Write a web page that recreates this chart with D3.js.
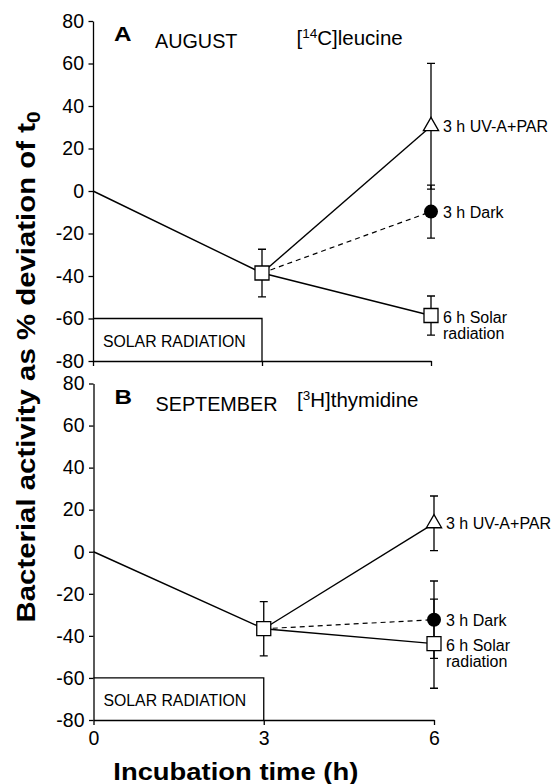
<!DOCTYPE html>
<html>
<head>
<meta charset="utf-8">
<script src="https://cdn.jsdelivr.net/npm/d3@7"></script>
<style>
  body { margin: 0; background: #fff; }
  svg { display: block; }
  text { font-family: "Liberation Sans", Arial, Helvetica, sans-serif; fill: #000; }
</style>
</head>
<body>
<script>
// Data (percent deviation of t0)
const hours = [0, 3, 6];
const branchHours = [3, 6];
const yTicks = [-80, -60, -40, -20, 0, 20, 40, 60, 80];

// A: August, [14C]leucine
const augSolar = [0, -38.6, -58.6];
const augSolarSd = [0, 11.2, 9.2];
const augUV = [-38.6, 30.5];
const augUVSd = [0, 29.6];
const augDark = [-38.6, -9.7];
const augDarkSd = [0, 12.5];

// B: September, [3H]thymidine
const sepSolar = [0, -36.6, -43.7];
const sepSolarSd = [0, 12.9, 21.2];
const sepUV = [-36.6, 13.5];
const sepUVSd = [0, 13];
const sepDark = [-36.6, -32.3];
const sepDarkSd = [0, 18.4];

const width = 555, height = 784;

const svg = d3.select("body")
    .append("svg")
    .attr("width", width)
    .attr("height", height);

const panels = [
    {
        letter: "A", month: "AUGUST", tracer: ["[", "14", "C]leucine"], tracerLen: 110,
        xRange: [93, 431], yRange: [361, 21], showXLabels: false,
        solar: augSolar, solarSd: augSolarSd,
        uv: augUV, uvSd: augUVSd, dark: augDark, darkSd: augDarkSd
    },
    {
        letter: "B", month: "SEPTEMBER", tracer: ["[", "3", "H]thymidine"], tracerLen: 123,
        xRange: [93.5, 434], yRange: [720, 383.5], showXLabels: true,
        solar: sepSolar, solarSd: sepSolarSd,
        uv: sepUV, uvSd: sepUVSd, dark: sepDark, darkSd: sepDarkSd
    }
];

panels.forEach(drawPanel);

function drawPanel(p) {
    const x = d3.scaleLinear().domain([0, 6]).range(p.xRange);
    const y = d3.scaleLinear().domain([-80, 80]).range(p.yRange);
    const g = svg.append("g");

    // y axis (plain hyphen for negatives, as in the figure)
    const yAxis = g.append("g")
        .attr("transform", `translate(${x(0)},0)`)
        .call(d3.axisLeft(y).tickValues(yTicks).tickSize(4.5).tickSizeOuter(0).tickPadding(4.5)
            .tickFormat(d => String(d)));
    // x axis at -80
    const xAxis = g.append("g")
        .attr("transform", `translate(0,${y(-80)})`)
        .call(d3.axisBottom(x).tickValues(hours).tickSize(5).tickSizeOuter(0).tickPadding(6.5)
            .tickFormat(p.showXLabels ? d => String(d) : () => ""));
    [yAxis, xAxis].forEach(a => {
        a.selectAll("path, line").attr("stroke", "#000").attr("stroke-width", 1.3);
        a.selectAll("text").attr("font-size", 19.5)
            .attr("font-family", "'Liberation Sans', Arial, sans-serif");
    });

    // solar radiation box
    g.append("path")
        .attr("d", `M${x(0)},${y(-60)}H${x(3)}V${y(-80)}`)
        .attr("fill", "none").attr("stroke", "#000").attr("stroke-width", 1.3);
    g.append("text")
        .attr("x", x(0) + 10).attr("y", y(-80) - 14)
        .attr("font-size", 15.8)
        .text("SOLAR RADIATION");

    // titles
    const top = y(80);
    g.append("text")
        .attr("x", x(0) + 21).attr("y", top + 20)
        .attr("font-size", 20).attr("font-weight", "bold")
        .attr("textLength", 17.5).attr("lengthAdjust", "spacingAndGlyphs")
        .text(p.letter);
    g.append("text")
        .attr("x", x(0) + 62).attr("y", top + 27.3)
        .attr("font-size", 19.8)
        .text(p.month);
    const tr = g.append("text")
        .attr("x", x(0) + 203.5).attr("y", top + 23.5)
        .attr("font-size", 20.5);
    tr.append("tspan").text(p.tracer[0]);
    tr.append("tspan").attr("font-size", 13.5).attr("dy", -7).text(p.tracer[1]);
    tr.append("tspan").attr("dy", 7).text(p.tracer[2]);

    // lines
    const line = d3.line().x(d => x(d[0])).y(d => y(d[1]));
    const solarPts = d3.zip(hours, p.solar);
    const uvPts = d3.zip(branchHours, p.uv);
    const darkPts = d3.zip(branchHours, p.dark);

    g.append("path").attr("d", line(solarPts))
        .attr("fill", "none").attr("stroke", "#000").attr("stroke-width", 1.4);
    g.append("path").attr("d", line(uvPts))
        .attr("fill", "none").attr("stroke", "#000").attr("stroke-width", 1.4);
    g.append("path").attr("d", line(darkPts))
        .attr("fill", "none").attr("stroke", "#000").attr("stroke-width", 1.2)
        .attr("stroke-dasharray", "5,4");

    // error bars
    const bars = [];
    hours.forEach((h, i) => { if (p.solarSd[i] > 0) bars.push([h, p.solar[i], p.solarSd[i]]); });
    branchHours.forEach((h, i) => {
        if (p.uvSd[i] > 0) bars.push([h, p.uv[i], p.uvSd[i]]);
        if (p.darkSd[i] > 0) bars.push([h, p.dark[i], p.darkSd[i]]);
    });
    const cap = 4;
    g.append("g").selectAll("path")
        .data(bars)
        .join("path")
        .attr("d", d => {
            const cx = x(d[0]), y1 = y(d[1] + d[2]), y2 = y(d[1] - d[2]);
            return `M${cx},${y1}V${y2}M${cx - cap},${y1}H${cx + cap}M${cx - cap},${y2}H${cx + cap}`;
        })
        .attr("fill", "none").attr("stroke", "#000").attr("stroke-width", 1.3);

    // markers
    const squares = solarPts.filter(d => d[0] > 0);
    g.append("g").selectAll("path")
        .data(squares)
        .join("path")
        .attr("transform", d => `translate(${x(d[0])},${y(d[1])})`)
        .attr("d", d3.symbol(d3.symbolSquare, 196))
        .attr("fill", "#fff").attr("stroke", "#000").attr("stroke-width", 1.3);
    const uvEnd = uvPts[uvPts.length - 1];
    g.append("path")
        .attr("transform", `translate(${x(uvEnd[0])},${y(uvEnd[1])})`)
        .attr("d", d3.symbol(d3.symbolTriangle, 100))
        .attr("fill", "#fff").attr("stroke", "#000").attr("stroke-width", 1.3);
    const darkEnd = darkPts[darkPts.length - 1];
    g.append("circle")
        .attr("cx", x(darkEnd[0])).attr("cy", y(darkEnd[1]))
        .attr("r", 7).attr("fill", "#000");

    // series labels
    const lx = x(6) + 12;
    const solarEnd = solarPts[solarPts.length - 1];
    g.append("text").attr("x", lx).attr("y", y(uvEnd[1]) + 6)
        .attr("font-size", 16).text("3 h UV-A+PAR");
    g.append("text").attr("x", lx).attr("y", y(darkEnd[1]) + 6)
        .attr("font-size", 16).text("3 h Dark");
    const st = g.append("text").attr("x", lx).attr("y", y(solarEnd[1]) + 7)
        .attr("font-size", 16);
    st.append("tspan").text("6 h Solar");
    st.append("tspan").attr("x", lx).attr("dy", 16.6).text("radiation");
}

// axis titles
const yTitle = svg.append("text")
    .attr("transform", "translate(35,367) rotate(-90)")
    .attr("text-anchor", "middle")
    .attr("font-size", 25.5)
    .attr("font-weight", "bold")
    .attr("textLength", 511)
    .attr("lengthAdjust", "spacingAndGlyphs");
yTitle.append("tspan").text("Bacterial activity as % deviation of t");
yTitle.append("tspan").attr("font-size", 18).attr("dy", 5).text("0");

svg.append("text")
    .attr("x", 235.8).attr("y", 780)
    .attr("text-anchor", "middle")
    .attr("font-size", 24)
    .attr("font-weight", "bold")
    .attr("textLength", 245)
    .attr("lengthAdjust", "spacingAndGlyphs")
    .text("Incubation time (h)");
</script>
</body>
</html>
